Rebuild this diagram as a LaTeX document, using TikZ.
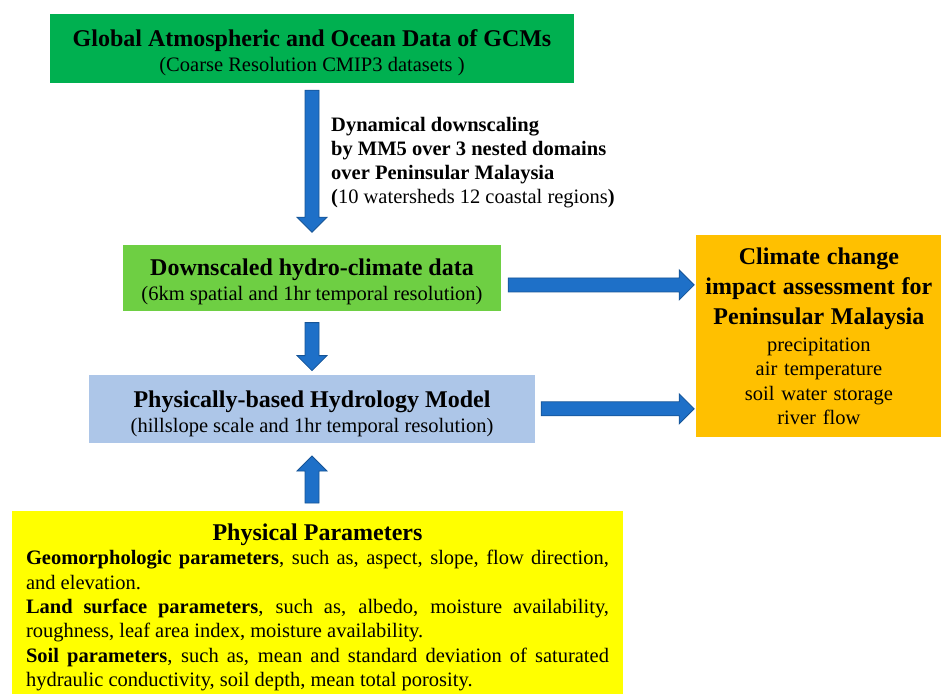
\documentclass[tikz,border=0pt]{standalone}
\usepackage{fontspec}
\setmainfont{Liberation Serif}
\usetikzlibrary{calc,positioning}
\definecolor{gcmgreen}{RGB}{0,176,80}
\definecolor{hydrogreen}{RGB}{110,207,67}
\definecolor{modelblue}{RGB}{173,198,232}
\definecolor{impactorange}{RGB}{255,192,0}
\definecolor{paramyellow}{RGB}{255,255,0}
\definecolor{arrowfill}{RGB}{30,112,200}
\definecolor{arrowedge}{RGB}{22,84,150}
\newcommand{\boxtitle}[2][0pt]{{\fontsize{24}{28}\selectfont\bfseries\rule{0pt}{#1}#2}}
\tikzset{bigarrow/.style={draw=arrowedge, fill=arrowfill, line width=0.8pt, line join=miter,
  to path={($(\tikztostart)!7pt!-90:(\tikztotarget)$)
    -- ($(\tikztotarget)!15pt!(\tikztostart)!7pt!90:(\tikztostart)$)
    -- ($(\tikztotarget)!15pt!(\tikztostart)!15pt!90:(\tikztostart)$)
    -- (\tikztotarget)
    -- ($(\tikztotarget)!15pt!(\tikztostart)!15pt!-90:(\tikztostart)$)
    -- ($(\tikztotarget)!15pt!(\tikztostart)!7pt!-90:(\tikztostart)$)
    -- ($(\tikztostart)!7pt!90:(\tikztotarget)$) -- cycle}}}

\begin{document}
\begin{tikzpicture}[x=1pt,y=-1pt]
\tikzstyle{block} = [rectangle, inner sep=0pt, align=center, font=\fontsize{20.5}{25}\selectfont]
\useasboundingbox (0,0) rectangle (944,693);

% blocks
    \node [block, fill=gcmgreen, minimum width=524pt, minimum height=69pt] (gcm) at (312,48.5) {\boxtitle[26pt]{Global Atmospheric and Ocean Data of GCMs}\\(Coarse Resolution CMIP3 datasets )};
    \node [block, fill=hydrogreen, minimum width=378pt, minimum height=66pt, below=162pt of gcm] (hydro) {\boxtitle[23.5pt]{Downscaled hydro-climate data}\\(6km spatial and 1hr temporal resolution)};
    \node [block, fill=modelblue, minimum width=446pt, minimum height=68pt, below=63pt of hydro] (model) {\boxtitle[26pt]{Physically-based Hydrology Model}\\(hillslope scale and 1hr temporal resolution)};
    \node [block, fill=paramyellow, text width=583pt, inner xsep=14pt, minimum height=183pt, align=justify, font=\fontsize{20.5}{24.4}\selectfont, below=68pt of model, xshift=5.5pt] (params) {\setlength{\parindent}{0pt}%
{\centering\fontsize{24}{28.5}\selectfont\bfseries\rule{0pt}{26pt}Physical Parameters\par}
\textbf{Geomorphologic parameters}, such as, aspect, slope, flow direction,\linebreak and elevation.\par
\textbf{Land surface parameters}, such as, albedo, moisture availability,\linebreak roughness, leaf area index, moisture availability.\par
\textbf{Soil parameters}, such as, mean and standard deviation of saturated\linebreak hydraulic conductivity, soil depth, mean total porosity.};
    \node [block, fill=impactorange, text width=241pt, inner xsep=2pt, minimum height=202pt, font=\fontsize{20.5}{24.5}\selectfont, anchor=north west] (impact) at ([xshift=195pt,yshift=10pt]hydro.north east) {{\fontsize{24}{30}\selectfont\bfseries Climate change\\ impact assessment for\\ Peninsular Malaysia\par}
\vspace{2pt}
precipitation\\ air temperature\\ soil water storage\\ river flow};

% arrow ends
    \coordinate (a1tail) at ([yshift=-7pt]gcm.south);
    \coordinate (a1tip) at ([yshift=13pt]hydro.north);
    \coordinate (a2tail) at ([xshift=7pt,yshift=-6.5pt]hydro.east);
    \coordinate (a2tip) at ([xshift=-2pt]a2tail -| impact.west);
    \coordinate (a3tail) at ([yshift=-11pt]hydro.south);
    \coordinate (a3tip) at ([yshift=4pt]model.north);
    \coordinate (a4tail) at ([xshift=6pt]model.east);
    \coordinate (a4tip) at ([xshift=-2pt]a4tail -| impact.west);
    \coordinate (a5tail) at ([yshift=8pt]params.north -| model.south);
    \coordinate (a5tip) at ([yshift=-13pt]model.south);

% label
    \node [font=\fontsize{20.5}{24}\selectfont, align=left, inner sep=0pt, anchor=west] (dslabel) at ([xshift=19pt,yshift=-1pt]$(a1tail)!0.5!(a1tip)$) {\textbf{Dynamical downscaling}\\\textbf{by MM5 over 3 nested domains}\\\textbf{over Peninsular Malaysia}\\\textbf{(}10 watersheds 12 coastal regions\textbf{)}};

% arrows
    \draw [bigarrow] (a1tail) to (a1tip);
    \draw [bigarrow] (a2tail) to (a2tip);
    \draw [bigarrow] (a3tail) to (a3tip);
    \draw [bigarrow] (a4tail) to (a4tip);
    \draw [bigarrow] (a5tail) to (a5tip);
\end{tikzpicture}
\end{document}
